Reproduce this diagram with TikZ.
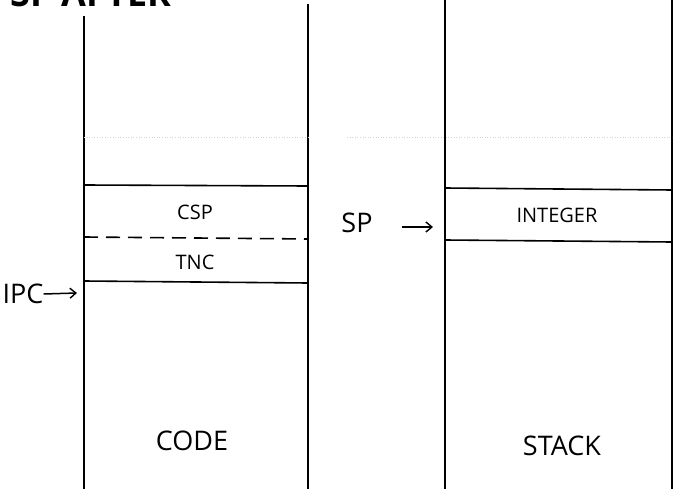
\documentclass[tikz,border=0pt]{standalone}
\usepackage{fontspec}
\setmainfont{Open Sans}
\usetikzlibrary{arrows.meta,positioning}

\begin{document}
\begin{tikzpicture}[
  x=1pt, y=-1pt,
  wall/.style={line width=1.7pt},
  sepline/.style={line width=1.6pt},
  faint/.style={gray!35, dotted, line width=0.6pt},
  cell/.style={inner sep=0pt, font=\fontsize{20}{22}\selectfont},
  lbl/.style={inner sep=0pt, font=\fontsize{27}{30}\selectfont},
  ttl/.style={inner sep=0pt, anchor=base west, font=\fontsize{36}{40}\selectfont\bfseries},
  arr/.style={-{Straight Barb[length=6pt,width=10pt,line width=1.4pt]}, line width=1.5pt}
]
\useasboundingbox (0,0) rectangle (674,489);

% title, cut off by the top edge
\begin{scope}
\clip (0,0) rectangle (674,489);
\node[ttl] (title) at (10,7) {SP AFTER};
\end{scope}

% code segment
\coordinate (codetl) at (84,16);
\coordinate (codetr) at (308,4);
\coordinate (codebl) at (84,489);
\coordinate (codebr) at (308,489);
\draw[wall] (codetl) -- (codebl);
\draw[wall] (codetr) -- (codebr);
\draw[faint] (84,137) -- (308,137);
\draw[sepline] (84,185) -- (308,186);
\draw[sepline, dashed, dash pattern=on 14pt off 8pt] (84,237) -- (308,239);
\draw[sepline] (84,281) -- (308,283);
\node[cell] (csp) at (195,212) {CSP};
\node[cell] (tnc) at (195,262) {TNC};
\node[lbl] (code) at (192,441) {CODE};

% stack segment
\coordinate (stacktl) at (445,0);
\coordinate (stacktr) at (672,0);
\coordinate (stackbl) at (445,489);
\coordinate (stackbr) at (672,489);
\draw[wall] (stacktl) -- (stackbl);
\draw[wall] (stacktr) -- (stackbr);
\draw[faint] (347,137) -- (672,137);
\draw[sepline] (445,188) -- (672,190);
\draw[sepline] (445,240) -- (672,242);
\node[cell] (integer) at (557,215) {INTEGER};
\node[lbl] (stack) at (562,446) {STACK};

% pointers
\node[lbl] (ipc) at (23,294) {IPC};
\coordinate (ipctip) at (77,293);
\draw[arr] (ipc.east) -- (ipctip);
\node[lbl] (sp) at (357,223) {SP};
\coordinate (sptail) at (402,227);
\coordinate (sptip) at (433,227);
\draw[arr] (sptail) -- (sptip);
\end{tikzpicture}
\end{document}
